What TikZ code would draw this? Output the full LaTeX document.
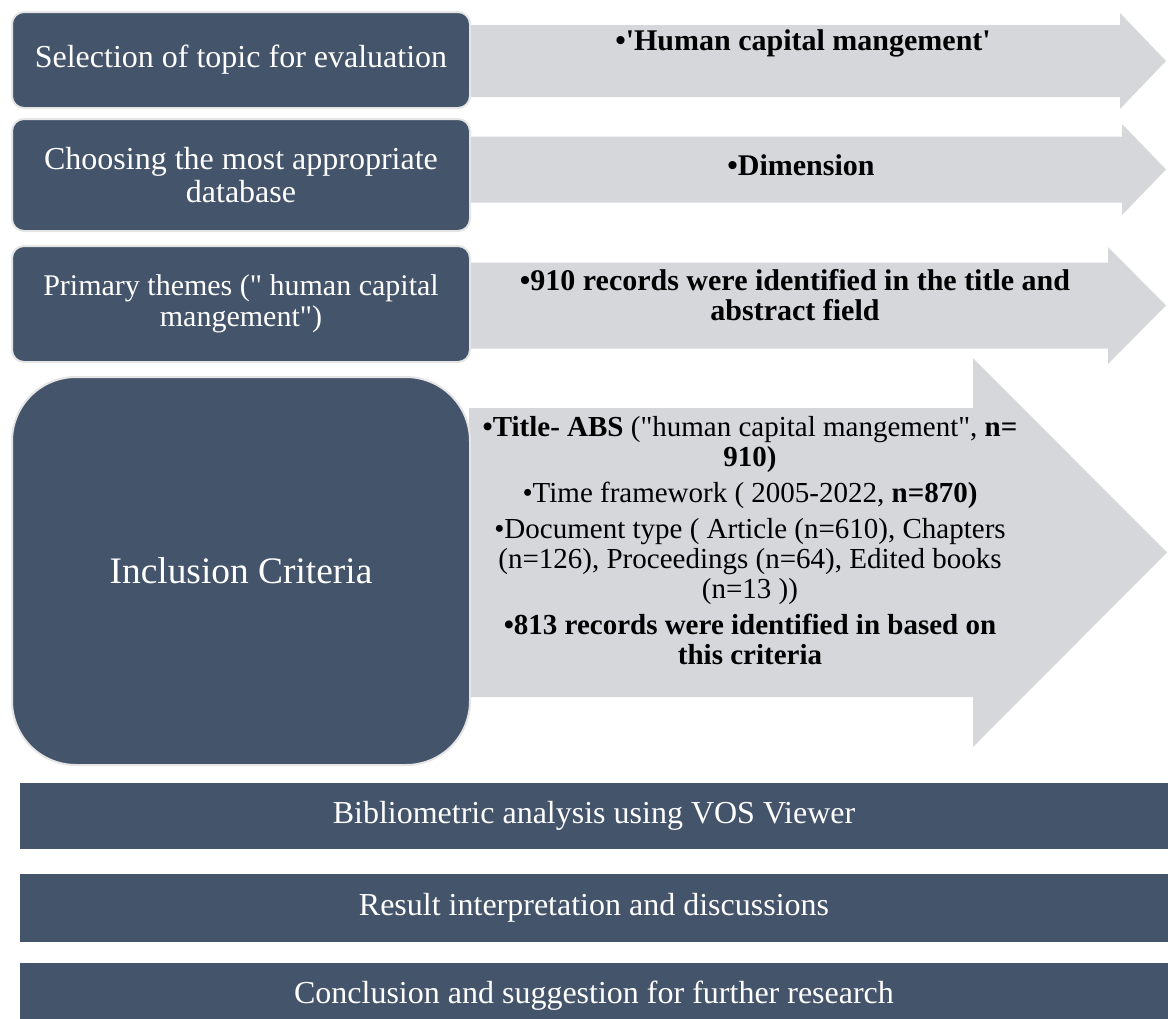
\documentclass[tikz,border=0pt]{standalone}
\usepackage{fontspec}
\newfontfamily\slidefont{Liberation Serif}
\usetikzlibrary{positioning}
\definecolor{slate}{HTML}{44546A}
\definecolor{arrowgrey}{HTML}{D5D7DB}
\tikzset{
  stagebox/.style={fill=slate, draw=black!10, line width=1pt, text=white,
    rounded corners=6pt, minimum width=229pt, align=center, inner sep=0pt},
  arrowtext/.style={align=center, font=\slidefont\fontsize{15}{15}\selectfont\bfseries},
  barbox/.style={fill=slate, text=white, minimum width=574pt, inner sep=0pt,
    font=\slidefont\fontsize{16}{16}\selectfont}
}
% centre y, half shaft, half head, head start x, tip x
\newcommand{\stagearrow}[5]{%
  \fill[arrowgrey] (469,#1-#2) -- (#4,#1-#2) -- (#4,#1-#3) -- (#5,#1)
    -- (#4,#1+#3) -- (#4,#1+#2) -- (469,#1+#2) -- cycle;}

\begin{document}
\begin{tikzpicture}[x=0.5pt,y=-0.5pt]
  \useasboundingbox (0,0) rectangle (1168,1018);

  \stagearrow{61}{36}{48}{1120}{1166}
  \stagearrow{169.5}{33}{45.5}{1122}{1166}
  \stagearrow{305.5}{43}{58.5}{1108}{1166}
  \stagearrow{552.5}{144.5}{194.5}{973}{1167}

  \node [stagebox,
    minimum height=48pt,
    font=\slidefont\fontsize{16}{16}\selectfont
  ] (select) at (241,60) {Selection of topic for evaluation};

  \node [stagebox,
    minimum height=56pt,
    font=\slidefont\fontsize{16}{16.5}\selectfont,
    below=4.5pt of select
  ] (database) {Choosing the most appropriate\\database};

  \node [stagebox,
    minimum height=58pt,
    font=\slidefont\fontsize{15}{15.5}\selectfont,
    below=6.5pt of database
  ] (themes) {Primary themes (" human capital\\mangement")};

  \node [stagebox,
    minimum height=194pt,
    rounded corners=32pt,
    font=\slidefont\fontsize{18.7}{20}\selectfont,
    below=6.5pt of themes
  ] (criteria) {Inclusion Criteria};

  \node [arrowtext] (topic) at (803,43) {\textbullet'Human capital mangement'};
  \node [arrowtext] (dimension) at (801,165) {\textbullet Dimension};
  \node [arrowtext] (records) at (795,295)
    {\textbullet 910 records were identified in the title and\\abstract field};

  \node [align=center,
    font=\slidefont\fontsize{14.5}{15}\selectfont
  ] (filters) at (750,541) {%
    \textbf{\textbullet Title- ABS} ("human capital mangement", \textbf{n=}\\
    \textbf{910)}\\[3pt]
    \textbullet Time framework ( 2005-2022, \textbf{n=870)}\\[3pt]
    \textbullet Document type ( Article (n=610), Chapters\\
    (n=126), Proceedings (n=64), Edited books\\
    (n=13 ))\\[3pt]
    \textbf{\textbullet 813 records were identified in based on}\\
    \textbf{this criteria}};

  \node [barbox, minimum height=33pt] (vos) at (594,816)
    {Bibliometric analysis using VOS Viewer};
  \node [barbox,
    minimum height=34pt,
    below=12pt of vos
  ] (results) {Result interpretation and discussions};
  \node [barbox,
    minimum height=33pt,
    below=10pt of results
  ] (conclusion) {Conclusion and suggestion for further research};
\end{tikzpicture}
\end{document}
